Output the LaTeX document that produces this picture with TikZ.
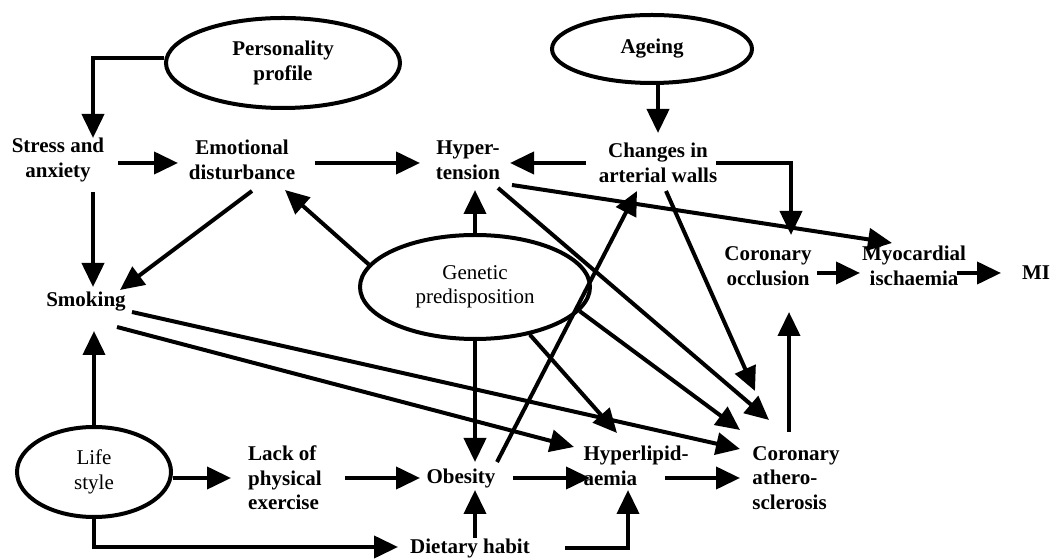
\documentclass[tikz,border=0pt]{standalone}
\usepackage{fontspec}
\setmainfont{Liberation Serif}
\usepackage{tikz}
\usetikzlibrary{arrows.meta,shapes.geometric}

\begin{document}
\begin{tikzpicture}[x=1pt,y=1pt,
        factor/.style={inner sep=0pt, align=center,
            font=\fontsize{21}{24.5}\selectfont\bfseries},
        cause/.style={draw, ellipse, line width=4pt, inner sep=0pt,
            align=center, font=\fontsize{21}{24.5}\selectfont},
        link/.style={line width=4pt,
            -{Triangle[length=24pt,width=22pt]}}
    ]
    \useasboundingbox (0,0) rectangle (1054,559);
    % ovals
    \node[cause, minimum width=234pt, minimum height=90pt, font=\fontsize{21}{24.5}\selectfont\bfseries]
        (pers) at (283,496) {Personality\\profile};
    \node[cause, minimum width=200pt, minimum height=68pt, font=\fontsize{21}{24.5}\selectfont\bfseries]
        (ageing) at (652,510) {Ageing};
    \node[cause, minimum width=230pt, minimum height=104pt] (genetic) at (475,272) {Genetic\\predisposition};
    \node[cause, minimum width=154pt, minimum height=90pt] (life) at (94,87) {Life\\style};
    % factors
    \node[factor] (stress) at (58,399) {Stress and\\anxiety};
    \node[factor] (emot) at (242,399) {Emotional\\disturbance};
    \node[factor] (hyper) at (468,399) {Hyper-\\tension};
    \node[factor] (changes) at (658,396) {Changes in\\arterial walls};
    \node[factor] (occl) at (768,293) {Coronary\\occlusion};
    \node[factor] (myo) at (914,293) {Myocardial\\ischaemia};
    \node[factor] (mi) at (1036,286) {MI};
    \node[factor] (smoking) at (86,257) {Smoking};
    \node[factor, align=left] (lack) at (285,81) {Lack of\\physical\\exercise};
    \node[factor] (obesity) at (461,81) {Obesity};
    \node[factor, align=left] (hyperlip) at (636,93) {Hyperlipid-\\aemia};
    \node[factor, align=left] (athero) at (796,81) {Coronary\\athero-\\sclerosis};
    \node[factor] (dietary) at (470,11) {Dietary habit};
    % top row
    \draw[link] ([yshift=5pt]pers.west) -| ([shift={(35,22)}]stress.center);
    \draw[link] ([shift={(60,-3)}]stress.center) -- ([shift={(-64,-3)}]emot.center);
    \draw[link] ([shift={(73,-3)}]emot.center) -- ([shift={(-48,-3)}]hyper.center);
    \draw[link] ([shift={(-72,0)}]changes.center) -- ([shift={(42,-3)}]hyper.center);
    \draw[link] ([xshift=6pt]ageing.south) -- ([yshift=30pt]changes.center);
    \draw[link] ([shift={(58,0)}]changes.center) -| ([shift={(23,31)}]occl.center);
    % into smoking
    \draw[link] ([shift={(35,-32)}]stress.center) -- ([shift={(7,15)}]smoking.center);
    \draw[link] ([shift={(10,-31)}]emot.center) -- ([shift={(34,12)}]smoking.center);
    \draw[link] (life.north) -- ([shift={(8,-29)}]smoking.center);
    % genetic predisposition
    \draw[link] (genetic.168) -- ([shift={(43,-30)}]emot.center);
    \draw[link] (genetic.north) -- ([shift={(7,-30)}]hyper.center);
    \draw[link] (genetic.-13) -- ([shift={(-56,48)}]athero.center);
    \draw[link] (genetic.-41) -- ([shift={(-19,33)}]hyperlip.center);
    \draw[link] (genetic.south) -- ([shift={(14,16)}]obesity.center);
    % long links
    \draw[link] ([shift={(44,-25)}]hyper.center) -- ([shift={(-22,23)}]myo.center);
    \draw[link] ([shift={(30,-28)}]hyper.center) -- ([shift={(-27,58)}]athero.center);
    \draw[link] ([shift={(36,16)}]obesity.center) -- ([shift={(-21,-28)}]changes.center);
    \draw[link] ([shift={(8,-28)}]changes.center) -- ([shift={(-41,87)}]athero.center);
    \draw[link] ([shift={(46,-10)}]smoking.center) -- ([shift={(-56,29)}]athero.center);
    \draw[link] ([shift={(31,-25)}]smoking.center) -- ([shift={(-62,19)}]hyperlip.center);
    % bottom row
    \draw[link] ([yshift=-6pt]life.east) -- ([xshift=-54pt]lack.center);
    \draw[link] ([xshift=60pt]lack.center) -- ([xshift=-41pt]obesity.center);
    \draw[link] ([xshift=52pt]obesity.center) -- ([shift={(-46,-12)}]hyperlip.center);
    \draw[link] ([shift={(29,-12)}]hyperlip.center) -- ([xshift=-56pt]athero.center);
    \draw[link] ([shift={(-7,46)}]athero.center) -- ([shift={(21,-46)}]occl.center);
    \draw[link] ([shift={(49,-7)}]occl.center) -- ([shift={(-54,-7)}]myo.center);
    \draw[link] ([shift={(43,-7)}]myo.center) -- ([shift={(-35,0)}]mi.center);
    \draw[link] (life.south) |- ([shift={(-72,1)}]dietary.center);
    \draw[link] ([shift={(5,10)}]dietary.center) -- ([shift={(14,-12)}]obesity.center);
    \draw[link] ([shift={(95,0)}]dietary.center) -| ([shift={(-8,-24)}]hyperlip.center);
\end{tikzpicture}
\end{document}
